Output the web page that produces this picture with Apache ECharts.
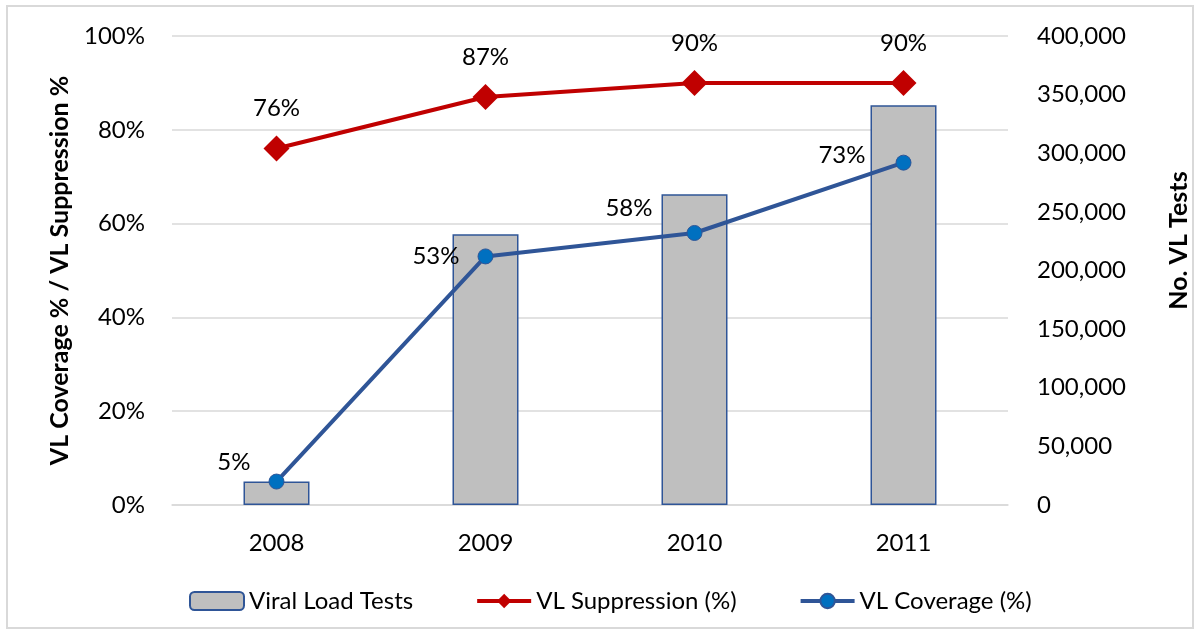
<!DOCTYPE html>
<html>
<head>
<meta charset="utf-8">
<script src="https://cdn.jsdelivr.net/npm/echarts@6/dist/echarts.min.js"></script>
<style>
html, body { margin: 0; padding: 0; background: #fff; }
#chart { width: 1199px; height: 634px; }
#frame { position: absolute; left: 6px; top: 5px; width: 1188px; height: 624px; border: 2px solid #d9d9d9; box-sizing: border-box; pointer-events: none; }
</style>
</head>
<body>
<div id="chart"></div>
<div id="frame"></div>
<script>
// data
const years = ['2008', '2009', '2010', '2011'];
const vlTests = [20000, 231000, 265000, 341000];
const vlSuppression = [76, 87, 90, 90];
const vlCoverage = [5, 53, 58, 73];
// label nudges for coverage labels (style only)
const coverageLabelOffsets = [[0, -19], [0, 0], [-16, -25], [-12, -7]];

const font = 'Lato, "Noto Sans", sans-serif';
const fs = 24;

const chart = echarts.init(document.getElementById('chart'));

const option = {
  animation: false,
  textStyle: { fontFamily: font },
  grid: { left: 172, right: 191, top: 36, bottom: 129 },
  legend: {
    bottom: 16,
    left: 184,
    itemGap: 62,
    itemWidth: 54,
    itemHeight: 18,
    textStyle: { fontSize: fs, color: '#000', fontFamily: font },
    data: [
      { name: 'Viral Load Tests' },
      { name: 'VL Suppression (%)', lineStyle: { width: 4 } },
      { name: 'VL Coverage (%)', lineStyle: { width: 4 } }
    ]
  },
  xAxis: {
    type: 'category',
    data: years,
    axisLine: { lineStyle: { color: '#d9d9d9', width: 1.5 } },
    axisTick: { show: false },
    axisLabel: { fontSize: fs, color: '#000', margin: 26, fontFamily: font }
  },
  yAxis: [
    {
      type: 'value',
      min: 0, max: 100, interval: 20,
      name: 'VL Coverage % / VL Suppression %',
      nameLocation: 'middle',
      nameGap: 100,
      nameTextStyle: { fontSize: 25, fontWeight: 'bold', color: '#000', fontFamily: font },
      axisLabel: { formatter: '{value}%', fontSize: fs, color: '#000', margin: 27, fontFamily: font },
      splitLine: { lineStyle: { color: '#d9d9d9', width: 1.5 } },
      axisLine: { show: false },
      axisTick: { show: false }
    },
    {
      type: 'value',
      min: 0, max: 400000, interval: 50000,
      position: 'right',
      name: 'No. VL Tests',
      nameLocation: 'middle',
      nameRotate: 90,
      nameGap: 158,
      nameTextStyle: { fontSize: 25, fontWeight: 'bold', color: '#000', fontFamily: font, padding: [0, 0, 0, 60] },
      axisLabel: {
        fontSize: fs, color: '#000', margin: 29, fontFamily: font,
        formatter: v => v.toLocaleString('en-US')
      },
      splitLine: { show: false },
      axisLine: { show: false },
      axisTick: { show: false }
    }
  ],
  series: [
    {
      name: 'Viral Load Tests',
      type: 'bar',
      yAxisIndex: 1,
      barWidth: 66,
      data: vlTests,
      itemStyle: { color: '#bfbfbf', borderColor: '#2f5597', borderWidth: 1.5 }
    },
    {
      name: 'VL Suppression (%)',
      type: 'line',
      yAxisIndex: 0,
      data: vlSuppression,
      symbol: 'diamond',
      symbolSize: 26,
      lineStyle: { color: '#c00000', width: 4 },
      itemStyle: { color: '#c00000' },
      label: {
        show: true, position: 'top', distance: 15,
        formatter: '{c}%', fontSize: fs, color: '#000', fontFamily: font
      },
      z: 3
    },
    {
      name: 'VL Coverage (%)',
      type: 'line',
      yAxisIndex: 0,
      data: vlCoverage.map((v, i) => ({
        value: v,
        label: { offset: coverageLabelOffsets[i] }
      })),
      symbol: 'circle',
      symbolSize: 15,
      lineStyle: { color: '#2f5597', width: 4 },
      itemStyle: { color: '#0070c0', borderColor: '#2f5597', borderWidth: 1 },
      label: {
        show: true, position: 'left', distance: 18,
        formatter: '{c}%', fontSize: fs, color: '#000', fontFamily: font
      },
      z: 4
    }
  ]
};

chart.setOption(option);
</script>
</body>
</html>
